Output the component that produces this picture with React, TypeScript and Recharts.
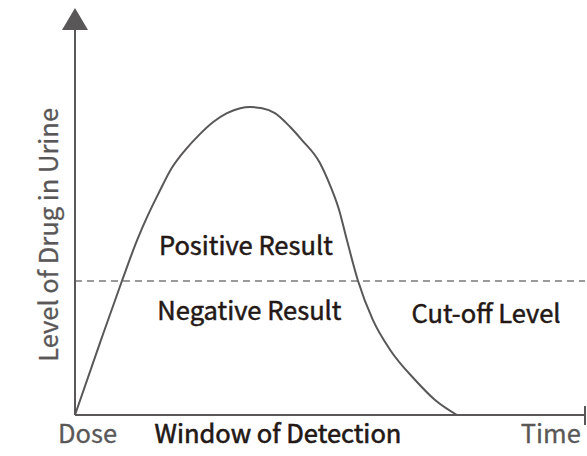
import {
  LineChart, Line, XAxis, YAxis, ReferenceLine, ReferenceDot,
} from 'recharts';

// time since dose (arbitrary units) and drug level (arbitrary units)
const times = [0, 5.1, 9.2, 12.2, 14.3, 16.5, 19.0, 21.6, 24.3, 27.1, 29.8, 32.4, 34.3, 36.7, 39.2, 42.2, 44.5, 48.0, 49.6, 51.8, 53.3, 55.5, 58.4, 61.8, 66.7, 70.6, 74.9];
const levels = [0, 19.5, 34.8, 45.5, 51.9, 57.9, 64.2, 68.8, 72.7, 76.1, 78.4, 79.7, 80.0, 79.7, 78.4, 74.8, 71.4, 65.5, 61.0, 53.2, 45.5, 34.8, 24.7, 16.9, 9.1, 3.9, 0];
const cutoff = 34.8;

const yTitle = 'Level of Drug in Urine';
const doseLabel = 'Dose';
const windowLabel = 'Window of Detection';
const timeLabel = 'Time';
const positiveLabel = 'Positive Result';
const negativeLabel = 'Negative Result';
const cutoffLabel = 'Cut-off Level';

const data = times.map((t, i) => ({ t, level: levels[i] }));

const FONT = '"Noto Sans CJK SC", "Noto Sans", sans-serif';
const DARK = '#231815';
const GREY = '#595757';

const textShape = (text: string, color: string, thick = 0, rotate = false) => (props: any) => {
  const { cx, cy } = props;
  return (
    <text
      x={cx}
      y={cy}
      textAnchor="middle"
      fill={color}
      stroke={thick ? color : 'none'}
      strokeWidth={thick}
      fontFamily={FONT}
      fontSize={25.5}
      transform={rotate ? `rotate(-90 ${cx} ${cy})` : undefined}
    >
      {text}
    </text>
  );
};

const arrowUp = (props: any) => {
  const { cx, cy } = props;
  return <polygon points={`${cx},${cy - 22} ${cx - 13},${cy} ${cx + 13},${cy}`} fill={GREY} />;
};

const endTick = (props: any) => {
  const { cx, cy } = props;
  return <line x1={cx} x2={cx} y1={cy - 9} y2={cy + 10} stroke={GREY} strokeWidth={2} />;
};

export default function App() {
  return (
    <div style={{ position: 'absolute', left: 0, top: 0 }}>
      <LineChart
        width={587}
        height={456}
        data={data}
        margin={{
          top: 30, right: 2, left: 75, bottom: 41,
        }}
      >
        <XAxis type="number" dataKey="t" domain={[0, 100]} hide />
        <YAxis type="number" domain={[0, 100]} hide />
        <ReferenceLine y={cutoff} stroke="#7a7a7a" strokeWidth={1.5} strokeDasharray="7 5" />
        <ReferenceLine x={0} stroke={GREY} strokeWidth={2} />
        <ReferenceLine y={0} stroke={GREY} strokeWidth={2} />
        <ReferenceDot x={0} y={100} r={0} shape={arrowUp} ifOverflow="visible" />
        <ReferenceDot x={100} y={0} r={0} shape={endTick} ifOverflow="visible" />
        <Line
          type="monotone"
          dataKey="level"
          stroke={GREY}
          strokeWidth={2}
          dot={false}
          activeDot={false}
          isAnimationActive={false}
        />
        <ReferenceDot x={33.5} y={41.6} r={0} shape={textShape(positiveLabel, DARK, 0.5)} ifOverflow="visible" />
        <ReferenceDot x={34.2} y={24.7} r={0} shape={textShape(negativeLabel, DARK, 0.5)} ifOverflow="visible" />
        <ReferenceDot x={80.6} y={23.9} r={0} shape={textShape(cutoffLabel, DARK, 0.5)} ifOverflow="visible" />
        <ReferenceDot x={2.45} y={-7.3} r={0} shape={textShape(doseLabel, GREY, 0.3)} ifOverflow="visible" />
        <ReferenceDot x={39.8} y={-7.3} r={0} shape={textShape(windowLabel, DARK, 0.6)} ifOverflow="visible" />
        <ReferenceDot x={93.3} y={-7.3} r={0} shape={textShape(timeLabel, GREY, 0.3)} ifOverflow="visible" />
        <ReferenceDot x={-3.4} y={46.8} r={0} shape={textShape(yTitle, GREY, 0.3, true)} ifOverflow="visible" />
      </LineChart>
    </div>
  );
}
